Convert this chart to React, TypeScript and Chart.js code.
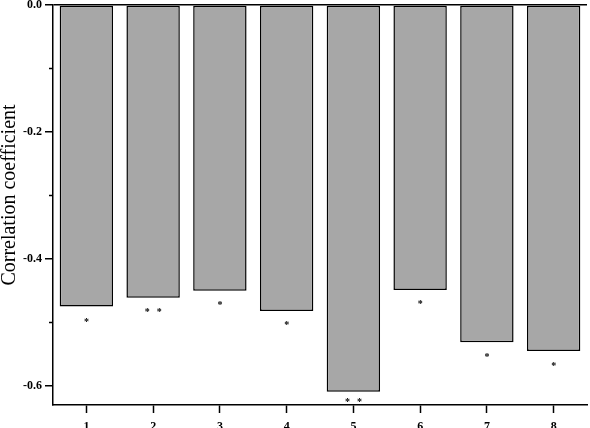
import React, { useEffect, useRef } from "react";
import { Chart, registerables } from "chart.js";

Chart.register(...registerables);

const categories = ["1", "2", "3", "4", "5", "6", "7", "8"];
const correlation = [-0.475, -0.461, -0.45, -0.482, -0.609, -0.449, -0.531, -0.545];
const significance = ["*", "**", "*", "*", "**", "*", "*", "*"];
const markValues = [-0.496, -0.48, -0.469, -0.501, -0.622, -0.468, -0.551, -0.565];
const yTickValues = [0, -0.2, -0.4, -0.6];
const yMinorTickValues = [-0.1, -0.3, -0.5];
const yMin = -0.63;
const yMax = 0;
const axisTitle = "Correlation coefficient";

const FONT = "'Liberation Serif', 'Times New Roman', serif";

const overlayPlugin = {
  id: "overlay",
  afterDraw(chart: any) {
    const ctx = chart.ctx;
    const xs = chart.scales.x;
    const ys = chart.scales.y;
    ctx.save();
    // minor ticks
    ctx.strokeStyle = "#000";
    ctx.lineWidth = 1.5;
    yMinorTickValues.forEach((v) => {
      const y = Math.round(ys.getPixelForValue(v)) + 0.5;
      ctx.beginPath();
      ctx.moveTo(xs.left - 4, y);
      ctx.lineTo(xs.left, y);
      ctx.stroke();
    });
    // significance marks
    ctx.fillStyle = "#000";
    ctx.font = `bold 10px ${FONT}`;
    ctx.textAlign = "center";
    ctx.textBaseline = "alphabetic";
    const m = ctx.measureText("*");
    const off = (m.actualBoundingBoxAscent - m.actualBoundingBoxDescent) / 2;
    significance.forEach((s, i) => {
      const cx = xs.getPixelForValue(i);
      const cy = ys.getPixelForValue(markValues[i]);
      const n = s.length;
      for (let k = 0; k < n; k++) {
        const x = cx + (k - (n - 1) / 2) * 12;
        ctx.fillText("*", x, cy + off);
      }
    });
    // axis title
    ctx.font = `20px ${FONT}`;
    ctx.textAlign = "center";
    ctx.textBaseline = "alphabetic";
    ctx.translate(15, 195);
    ctx.rotate(-Math.PI / 2);
    ctx.fillText(axisTitle, 0, 0);
    ctx.restore();
  },
};

export default function App() {
  const ref = useRef<HTMLCanvasElement>(null);
  useEffect(() => {
    if (!ref.current) return;
    const chart = new Chart(ref.current, {
      type: "bar",
      data: {
        labels: categories,
        datasets: [
          {
            data: correlation,
            backgroundColor: "#a7a7a7",
            borderColor: "#000",
            borderWidth: 1.5,
            borderSkipped: false,
            barPercentage: 0.8,
            categoryPercentage: 1,
          },
        ],
      },
      options: {
        responsive: false,
        animation: false,
        layout: { padding: { top: 5, right: 3, left: 0, bottom: 0 } },
        plugins: { legend: { display: false }, tooltip: { enabled: false }, title: { display: false } },
        scales: {
          x: {
            offset: true,
            afterFit: (s: any) => {
              s.height = 23;
              s.paddingLeft = 0;
              s.paddingRight = 0;
            },
            border: { display: true, color: "#000", width: 1.5 },
            grid: {
              offset: false,
              drawOnChartArea: false,
              drawTicks: true,
              tickLength: 8,
              tickColor: "#000",
              tickWidth: 1.5,
            },
            ticks: {
              color: "#000",
              padding: 7,
              font: { family: FONT, size: 12, weight: "bold" },
              maxRotation: 0,
            },
          },
          y: {
            min: yMin,
            max: yMax,
            afterFit: (s: any) => {
              s.width = 53;
              s.paddingTop = 0;
              s.paddingBottom = 0;
            },
            afterBuildTicks: (s: any) => {
              s.ticks = yTickValues.map((v) => ({ value: v }));
            },
            border: { display: true, color: "#000", width: 1.5 },
            grid: {
              drawOnChartArea: true,
              color: (c: any) => (c.tick && c.tick.value === 0 ? "#000" : "rgba(0,0,0,0)"),
              lineWidth: 1.5,
              drawTicks: true,
              tickLength: 8,
              tickColor: "#000",
              tickWidth: 1.5,
            },
            ticks: {
              color: "#000",
              padding: 3,
              font: { family: FONT, size: 12, weight: "bold" },
              callback: (v: any) => Number(v).toFixed(1),
            },
          },
        },
      },
      plugins: [overlayPlugin],
    });
    return () => chart.destroy();
  }, []);
  return (
    <canvas
      ref={ref}
      width={590}
      height={428}
      style={{ position: "absolute", left: 0, top: 0, width: 590, height: 428 }}
    />
  );
}
